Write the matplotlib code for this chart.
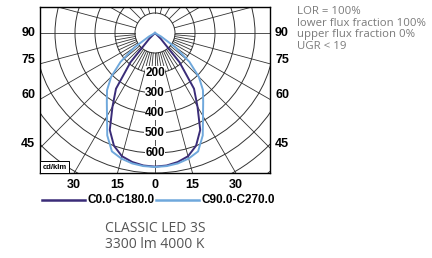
import numpy as np
import matplotlib
matplotlib.use('Agg')
import matplotlib.pyplot as plt
from matplotlib.patches import Circle

# Datos fotométricos (cd/klm) por ángulo gamma
gamma = [0, 5, 10, 15, 20, 25, 30, 35, 40, 45, 50, 55, 60, 65, 70, 75, 80, 85, 90]
c0_c180 = [668, 665, 655, 638, 600, 535, 425, 340, 190, 40, 0, 0, 0, 0, 0, 0, 0, 0, 0]
c90_c270 = [670, 668, 662, 650, 630, 565, 480, 420, 373, 310, 225, 125, 35, 0, 0, 0, 0, 0, 0]

ring_values = [100, 200, 300, 400, 500, 600, 700, 800, 900, 1000]
ring_labels = ['200', '300', '400', '500', '600']
side_angles = [90, 75, 60, 45]
bottom_angles = [-30, -15, 0, 15, 30]
series_names = ['C0.0-C180.0', 'C90.0-C270.0']
info_lines = ['LOR = 100%', 'lower flux fraction 100%', 'upper flux fraction 0%', 'UGR < 19']
title_lines = ['CLASSIC LED 3S', '3300 lm 4000 K']

narrow = ['Liberation Sans Narrow', 'Liberation Sans', 'DejaVu Sans']
txt_kw = dict(fontweight='bold', family=narrow, fontstretch='condensed')
col_c0 = '#3a2c78'
col_c90 = '#6fa8dc'
grid_col = '#333333'

fig = plt.figure(figsize=(4.32, 2.58), dpi=100)
ax = fig.add_axes([40 / 432, 85 / 258, 230 / 432, 166 / 258])
ax.set_xlim(-575, 575)
ax.set_ylim(-700, 130)
ax.set_xticks([])
ax.set_yticks([])
for s in ax.spines.values():
    s.set_linewidth(1.0)
    s.set_color('black')

# Rejilla polar: anillos y radios
for r in ring_values:
    ax.add_patch(Circle((0, 0), r, fill=False, lw=0.7, ec=grid_col, zorder=1))
for a in range(0, 360, 5):
    lower = a <= 90 or a >= 270
    if a % 15 != 0 and not lower:
        continue
    t = np.radians(a)
    r_end = 1300 if a % 15 == 0 else 200
    ax.plot([100 * np.sin(t), r_end * np.sin(t)], [-100 * np.cos(t), -r_end * np.cos(t)],
            color=grid_col, lw=0.6, zorder=1)

# Curvas
g = np.radians(np.array(gamma))
for vals, col in [(c0_c180, col_c0), (c90_c270, col_c90)]:
    v = np.array(vals, dtype=float)
    gg = np.concatenate([-g[::-1], g[1:]])
    vv = np.concatenate([v[::-1], v[1:]])
    ax.plot(vv * np.sin(gg), -vv * np.cos(gg), color=col, lw=1.4, zorder=3)

# Etiquetas del eje 0
for lab in ring_labels:
    ax.text(0, -int(lab), lab, ha='center', va='center', fontsize=8.5, zorder=4,
            bbox=dict(boxstyle='square,pad=0.05', fc='white', ec='none'), **txt_kw)

# Etiquetas laterales
for a in side_angles:
    y = 0 if a == 90 else -575 / np.tan(np.radians(a)) + 20
    ax.text(-600, y, str(a), ha='right', va='center', fontsize=9, clip_on=False, **txt_kw)
    ax.text(600, y, str(a), ha='left', va='center', fontsize=9, clip_on=False, **txt_kw)
for a in bottom_angles:
    x = 700 * np.tan(np.radians(a))
    ax.text(x, -760, str(abs(a)), ha='center', va='center', fontsize=9, clip_on=False, **txt_kw)

ax.text(-563, -688, 'cd/klm', ha='left', va='bottom', fontsize=5.5, zorder=5,
        bbox=dict(boxstyle='square,pad=0.3', fc='white', ec='black', lw=0.7), **txt_kw)

# Leyenda
ax.plot([-565, -350], [-835, -835], color=col_c0, lw=1.8, clip_on=False)
ax.text(-340, -835, series_names[0], ha='left', va='center', fontsize=8.5, clip_on=False, **txt_kw)
ax.plot([5, 220], [-835, -835], color=col_c90, lw=1.8, clip_on=False)
ax.text(235, -835, series_names[1], ha='left', va='center', fontsize=8.5, clip_on=False, **txt_kw)

# Textos
for i, t in enumerate(title_lines):
    fig.text(155 / 432, 1 - (229 + 16 * i) / 258, t, ha='center', va='center', fontsize=10,
             color='#555555', family=['Open Sans', 'DejaVu Sans'])
for i, t in enumerate(info_lines):
    fig.text(297 / 432, 1 - (12 + 11.5 * i) / 258, t, ha='left', va='center', fontsize=8.2,
             color='#7a7a7a', family=['Open Sans', 'DejaVu Sans'])

fig.savefig('out.png', dpi=100)
